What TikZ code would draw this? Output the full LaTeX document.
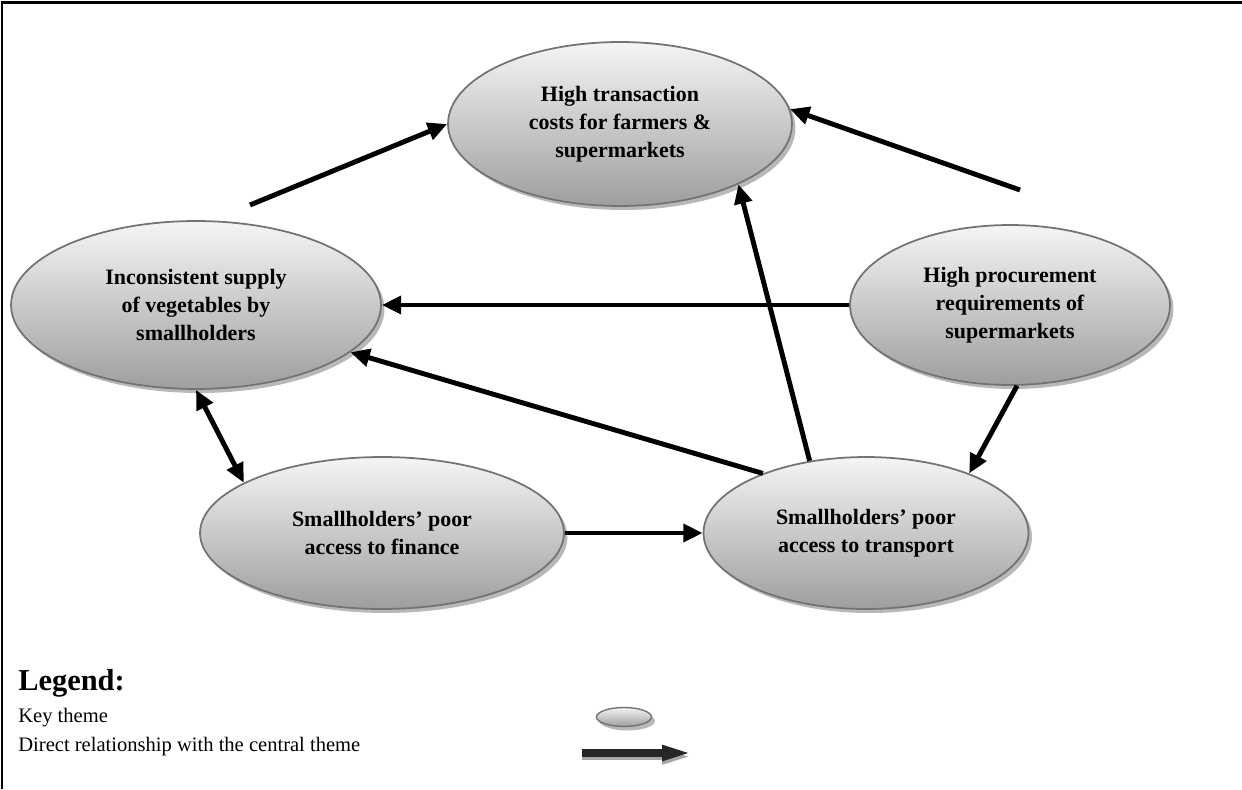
\documentclass[tikz,border=0pt]{standalone}
\usepackage{fontspec}
\setmainfont{Liberation Serif}
\usetikzlibrary{arrows.meta,shapes.geometric,shadows,calc}

\begin{document}
\begin{tikzpicture}[
    x=0.02cm, y=-0.02cm,
    theme/.style={ellipse, draw=black!55, line width=1pt, inner sep=0pt,
                  top color=white!96!black, bottom color=black!38,
                  drop shadow={shadow xshift=0.07cm, shadow yshift=-0.08cm,
                               fill=black!28, opacity=1},
                  align=center, font=\fontsize{12.5}{16}\selectfont\bfseries},
    arrow/.style={-{Triangle[length=11pt,width=10pt]}, line width=2.8pt},
    twoway/.style={{Triangle[length=11pt,width=10pt]}-{Triangle[length=11pt,width=10pt]},
                   line width=2.8pt},
    legendtext/.style={anchor=west, inner sep=0pt,
                       font=\fontsize{11.7}{14}\selectfont}
]
\useasboundingbox (0,0) rectangle (1242,789);

% frame
\draw[line width=1.7pt] (2,789) -- (2,2) -- (1242,2);

% key themes
\node[theme, minimum width=6.88cm, minimum height=3.28cm] (costs) at (620,124)
    {High transaction\\costs for farmers \&\\supermarkets};
\node[theme, minimum width=7.4cm, minimum height=3.36cm] (supply) at (196,305)
    {Inconsistent supply\\of vegetables by\\smallholders};
\node[theme, minimum width=6.4cm, minimum height=3.2cm] (procurement) at (1010,305)
    {High procurement\\requirements of\\supermarkets};
\node[theme, minimum width=7.28cm, minimum height=3.04cm] (finance) at (382,533)
    {Smallholders’ poor\\access to finance};
\node[theme, minimum width=6.5cm, minimum height=3.04cm] (transport) at (866,533)
    {Smallholders’ poor\\access to transport};

\coordinate (supplytail) at (250,205);
\coordinate (proctail) at (1020,190);

\draw[arrow] (supplytail) -- (costs.west);
\draw[arrow] (proctail) -- (costs.5);
\draw[arrow] (procurement.west) -- (supply.east);
\draw[arrow] (transport.150) -- (supply.-17);
\draw[arrow] (transport.128) -- (costs.-27);
\draw[arrow] (procurement.-85) -- (transport.30);
\draw[arrow] (finance.east) -- (transport.west);
\draw[twoway] (supply.south) -- (finance.160);

% legend
\node[anchor=west, inner sep=0pt, font=\fontsize{17.3}{20}\selectfont\bfseries]
    (legendtitle) at (18,683) {Legend:};
\node[legendtext] (keytheme) at (18,718) {Key theme};
\node[legendtext] (keyrel) at (18,747) {Direct relationship with the central theme};

\node[theme, minimum width=1.1cm, minimum height=0.38cm, line width=0.8pt,
      drop shadow={shadow xshift=0.04cm, shadow yshift=-0.06cm, fill=black!28, opacity=1}]
    (keyicon) at (624,717) {};

\coordinate (keyfrom) at (582,753);
\coordinate (keyto) at (692,753);
\draw[-{Triangle[length=17pt,width=8pt]}, line width=4pt, black!35,
      transform canvas={yshift=-0.07cm}] (keyfrom) -- (keyto);
\draw[-{Triangle[length=17pt,width=8pt]}, line width=4pt, black!85] (keyfrom) -- (keyto);

\end{tikzpicture}
\end{document}
